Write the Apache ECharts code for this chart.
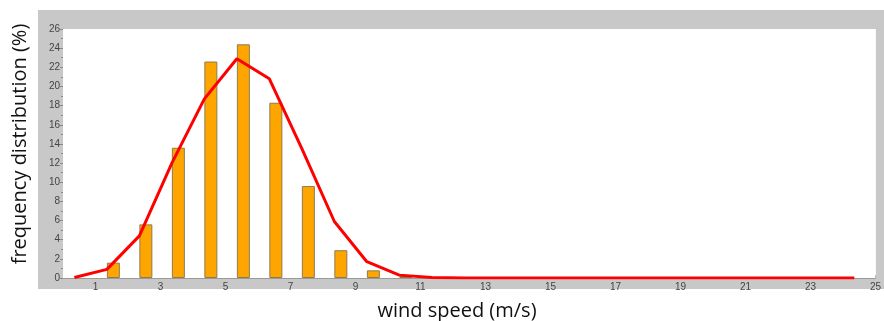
<!DOCTYPE html>
<html>
<head>
<meta charset="utf-8">
<script src="https://cdn.jsdelivr.net/npm/echarts@6/dist/echarts.min.js"></script>
<style>
html,body{margin:0;padding:0;background:#fff;}
#chart{width:884px;height:321px;}
</style>
</head>
<body>
<div id="chart"></div>
<script>
// Wind speed bins for the histogram bars (m/s) and their frequency (%)
var barSpeeds = [1.55, 2.55, 3.55, 4.55, 5.55, 6.55, 7.55, 8.55, 9.55, 10.55];
var barFreq   = [1.6, 5.6, 13.6, 22.6, 24.4, 18.3, 9.6, 2.9, 0.8, 0.2];

// Fitted distribution curve
var curveSpeeds = [0.35, 1.35, 2.35, 3.35, 4.35, 5.35, 6.35, 7.35, 8.35, 9.35, 10.35, 11.35, 12.35,
                   13.35, 14.35, 15.35, 16.35, 17.35, 18.35, 19.35, 20.35, 21.35, 22.35, 23.35, 24.35];
var curveFreq   = [0.05, 0.9, 4.4, 12.0, 18.7, 22.9, 20.8, 13.5, 5.9, 1.7, 0.3, 0.05, 0,
                   0, 0, 0, 0, 0, 0, 0, 0, 0, 0, 0, 0];

var xLabelTitle = 'wind speed (m/s)';
var yLabelTitle = 'frequency distribution (%)';

var chart = echarts.init(document.getElementById('chart'), null, {renderer: 'canvas'});

var barData = barSpeeds.map(function (s, i) { return [s, barFreq[i]]; });
var curveData = curveSpeeds.map(function (s, i) { return [s, curveFreq[i]]; });

var tickFont = {fontFamily: 'Liberation Sans, Arial, sans-serif', fontSize: 10, color: '#444'};

chart.setOption({
  animation: false,
  backgroundColor: '#ffffff',
  graphic: [
    {type: 'rect', z: -100, silent: true,
     shape: {x: 38, y: 10, width: 846, height: 279},
     style: {fill: '#c8c8c8'}},
    {type: 'text', x: 457, y: 311, z: 10,
     style: {text: xLabelTitle, fontFamily: 'Open Sans', fontSize: 20, fill: '#111',
             textAlign: 'center', textVerticalAlign: 'middle'}},
    {type: 'text', x: 20, y: 144, rotation: Math.PI / 2, z: 10,
     style: {text: yLabelTitle, fontFamily: 'Open Sans', fontSize: 20, fill: '#111',
             textAlign: 'center', textVerticalAlign: 'middle'}}
  ],
  grid: {
    left: 63, top: 29, right: 4, bottom: 43,
    show: true, backgroundColor: '#ffffff', borderWidth: 0, z: 1
  },
  xAxis: [
    {
      type: 'value', min: 0, max: 25, interval: 1, position: 'bottom',
      axisLine: {show: true, lineStyle: {color: '#9a9a9a', width: 1}},
      axisTick: {show: false},
      splitLine: {show: false},
      axisLabel: Object.assign({
        margin: 4, showMaxLabel: true,
        formatter: function (v) { return (v % 2 === 1) ? String(v) : ''; }
      }, tickFont)
    },
    {
      type: 'value', min: 0, max: 25, interval: 2, position: 'bottom',
      axisLine: {show: false},
      axisTick: {show: true, inside: true, length: 3, lineStyle: {color: '#8a8a8a'}},
      axisLabel: {show: false},
      splitLine: {show: true, lineStyle: {color: '#f5f5f5', width: 1}}
    }
  ],
  yAxis: {
    type: 'value', min: 0, max: 26, interval: 2,
    axisLine: {show: true, lineStyle: {color: '#9a9a9a', width: 1}},
    axisTick: {show: true, length: 3, lineStyle: {color: '#8a8a8a'}},
    minorTick: {show: true, splitNumber: 2, length: 2, lineStyle: {color: '#8a8a8a'}},
    splitLine: {show: true, lineStyle: {color: '#e6e6e6', width: 1}},
    axisLabel: Object.assign({margin: 3}, tickFont)
  },
  series: [
    {
      type: 'bar', xAxisIndex: 0, data: barData, barWidth: 13, z: 2,
      itemStyle: {color: '#FFA500', borderColor: '#8d7b52', borderWidth: 1}
    },
    {
      type: 'line', xAxisIndex: 0, data: curveData, z: 3,
      showSymbol: false, symbol: 'none',
      lineStyle: {color: '#ff0000', width: 3}
    }
  ]
});
</script>
</body>
</html>
